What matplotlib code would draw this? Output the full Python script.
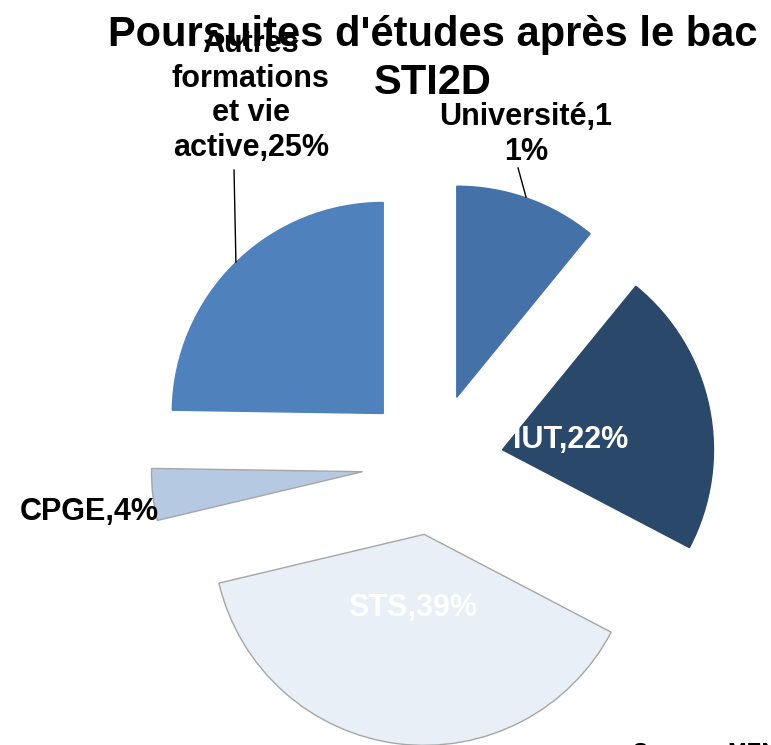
import matplotlib
matplotlib.use("Agg")
import matplotlib.pyplot as plt

# data
categories = ["Université", "IUT", "STS", "CPGE", "Autres formations et vie active"]
shares = [11, 22, 39, 4, 25]
labels = ["Université,1\n1%", "IUT,22%", "STS,39%", "CPGE,4%",
          "Autres\nformations\net vie\nactive,25%"]

colors = ["#4571a9", "#2a4869", "#e9eff7", "#b6c9e3", "#4f81bd"]
edges = ["#4571a9", "#2a4869", "#a6a6a6", "#a6a6a6", "#4f81bd"]

plt.rcParams["font.family"] = ["Liberation Sans", "DejaVu Sans"]

fig = plt.figure(figsize=(7.71, 7.45), dpi=100)
ax = fig.add_axes([0, 0, 1, 1])

wedges, _ = ax.pie(shares, startangle=90, counterclock=False, colors=colors,
                   explode=[0.336] * len(shares), radius=1.0,
                   wedgeprops=dict(linewidth=1))
for w, ec in zip(wedges, edges):
    w.set_edgecolor(ec)

# pixel frame: pie centre at (433, 464) px, radius 211 px
ax.set_xlim(-433 / 211, (771 - 433) / 211)
ax.set_ylim(-(745 - 464) / 211, 464 / 211)
ax.set_aspect("equal")
ax.axis("off")

fig.text(433 / 771, 1 - 59 / 745, "Poursuites d'études après le bac\nSTI2D",
         ha="center", va="center", fontsize=30, fontweight="bold",
         linespacing=1.25)

lab_style = dict(fontsize=22, fontweight="bold", ha="center", va="center",
                 linespacing=1.2)

# Autres formations
ax.text(-0.863, 1.744, labels[4], color="black", **lab_style)
ax.plot([-0.943, -0.934], [1.393, 0.957], color="black", lw=1)
# Université
ax.text(0.441, 1.562, labels[0], color="black", **lab_style)
ax.plot([0.403, 0.441], [1.403, 1.265], color="black", lw=1)
# IUT
ax.text(0.654, 0.114, labels[1], color="white", **lab_style)
# STS
ax.text(-0.095, -0.682, labels[2], color="white", **lab_style)
# CPGE
ax.text(-1.630, -0.227, labels[3], color="black", **lab_style)

ax.text(0.948, -1.318, "Source : MEN", fontsize=16, fontweight="bold",
        ha="left", va="top", color="black")

fig.savefig("out.png", dpi=100)
